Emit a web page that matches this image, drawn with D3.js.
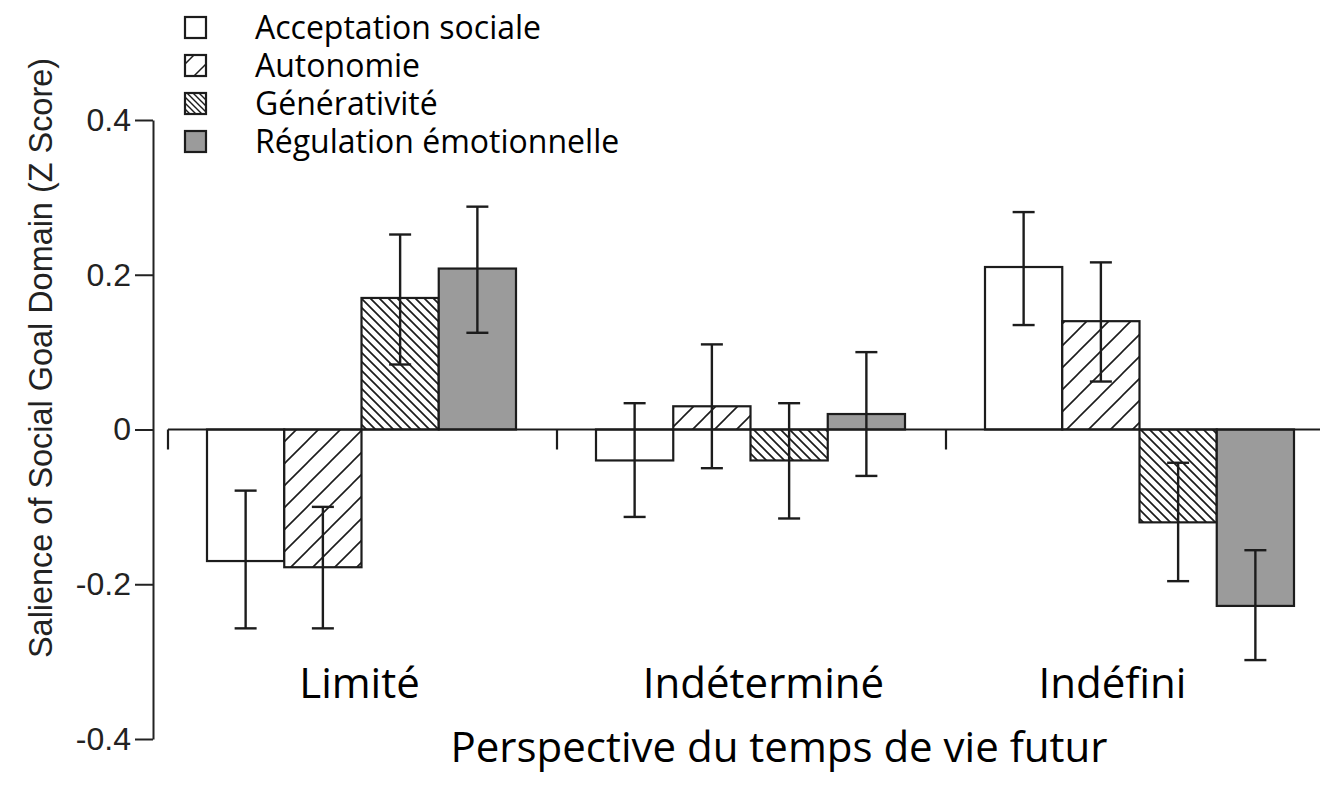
<!DOCTYPE html>
<html>
<head>
<meta charset="utf-8">
<script src="https://cdn.jsdelivr.net/npm/d3@7"></script>
<style>
  body { margin: 0; background: #fff; }
  svg { display: block; }
  .axisY text { font-family: "Liberation Sans", Arial, sans-serif; font-size: 32px; fill: #222; }
  .axisY path, .axisY line { stroke: #222; stroke-width: 2; }
</style>
</head>
<body>
<div id="chart"></div>
<script>
// categories and series
const categories = ["Limité", "Indéterminé", "Indéfini"];
const seriesNames = ["Acceptation sociale", "Autonomie", "Générativité", "Régulation émotionnelle"];

// bar means, one value per category
const acceptation = [-0.17, -0.04, 0.21];
const autonomie = [-0.178, 0.03, 0.14];
const generativite = [0.17, -0.04, -0.12];
const regulation = [0.208, 0.02, -0.228];

// error bar ends [low, high]
const acceptationErr = [[-0.257, -0.079], [-0.113, 0.034], [0.135, 0.281]];
const autonomieErr = [[-0.257, -0.1], [-0.05, 0.11], [0.062, 0.216]];
const generativiteErr = [[0.084, 0.252], [-0.115, 0.034], [-0.196, -0.043]];
const regulationErr = [[0.125, 0.288], [-0.06, 0.1], [-0.298, -0.156]];

const yTicks = [-0.4, -0.2, 0, 0.2, 0.4];
const yTickLabels = ["-0.4", "-0.2", "0", "0.2", "0.4"];
const yTitle = "Salience of Social Goal Domain (Z Score)";
const xTitle = "Perspective du temps de vie futur";

const width = 1320, height = 791;
const ink = "#1c1c1c";

const svg = d3.select("#chart").append("svg")
  .attr("width", width)
  .attr("height", height);

// HATCH PATTERNS
const defs = svg.append("defs");
function hatch(id, size, dir, sw, x0, y0) {
  const p = defs.append("pattern")
    .attr("id", id)
    .attr("patternUnits", "userSpaceOnUse")
    .attr("x", x0 || 0)
    .attr("y", y0 || 0)
    .attr("width", size)
    .attr("height", size);
  p.append("rect").attr("width", size).attr("height", size).attr("fill", "#fff");
  const s = size;
  const d = dir === "up"
    ? `M${-s},${s} L${s},${-s} M0,${2 * s} L${2 * s},0 M${-s},${2 * s} L${2 * s},${-s}`
    : `M${-s},0 L${s},${2 * s} M0,${-s} L${2 * s},${s} M${-s},${-s} L${2 * s},${2 * s}`;
  p.append("path").attr("d", d).attr("stroke", ink).attr("stroke-width", sw).attr("fill", "none");
}
hatch("hatchUp", 22, "up", 1.6);
hatch("hatchDown", 9, "down", 1.7);

const fills = ["#fff", "url(#hatchUp)", "url(#hatchDown)", "#9b9b9b"];

// SCALES
const y = d3.scaleLinear().domain([-0.4, 0.4]).range([739, 120]);
const x0 = d3.scaleBand().domain(categories).range([168, 1335]);
const x1 = d3.scaleBand().domain(seriesNames).range([39, 348]);

const means = [acceptation, autonomie, generativite, regulation];
const errs = [acceptationErr, autonomieErr, generativiteErr, regulationErr];

const rows = [];
categories.forEach((c, ci) => {
  seriesNames.forEach((s, si) => {
    rows.push({ cat: c, series: s, si: si, value: means[si][ci], lo: errs[si][ci][0], hi: errs[si][ci][1] });
  });
});

// Y AXIS
svg.append("g")
  .attr("class", "axisY")
  .attr("transform", "translate(153,0)")
  .call(d3.axisLeft(y)
    .tickValues(yTicks)
    .tickFormat((d, i) => yTickLabels[i])
    .tickSize(18)
    .tickSizeOuter(0)
    .tickPadding(4));

svg.append("text")
  .attr("transform", "translate(52,358) rotate(-90)")
  .attr("text-anchor", "middle")
  .attr("font-family", "Liberation Sans, Arial, sans-serif")
  .attr("font-size", 34)
  .attr("textLength", 600)
  .attr("lengthAdjust", "spacingAndGlyphs")
  .attr("fill", "#222")
  .text(yTitle);

// BARS
const bars = svg.append("g");
bars.selectAll("rect")
  .data(rows)
  .enter()
  .append("rect")
  .attr("x", d => x0(d.cat) + x1(d.series))
  .attr("y", d => y(Math.max(0, d.value)))
  .attr("width", x1.bandwidth())
  .attr("height", d => Math.abs(y(d.value) - y(0)))
  .attr("fill", d => fills[d.si])
  .attr("stroke", ink)
  .attr("stroke-width", 2.2);

// ZERO LINE + GROUP SEPARATORS
svg.append("line")
  .attr("x1", x0(categories[0]))
  .attr("x2", width)
  .attr("y1", y(0))
  .attr("y2", y(0))
  .attr("stroke", ink)
  .attr("stroke-width", 2.2);

svg.selectAll(".sep")
  .data(categories)
  .enter()
  .append("line")
  .attr("class", "sep")
  .attr("x1", d => x0(d))
  .attr("x2", d => x0(d))
  .attr("y1", y(0))
  .attr("y2", y(0) + 20)
  .attr("stroke", ink)
  .attr("stroke-width", 2.2);

// ERROR BARS
const eb = svg.append("g")
  .selectAll("g")
  .data(rows)
  .enter()
  .append("g")
  .attr("transform", d => `translate(${x0(d.cat) + x1(d.series) + x1.bandwidth() / 2},0)`)
  .attr("stroke", ink)
  .attr("stroke-width", 2.4);
eb.append("line").attr("y1", d => y(d.lo)).attr("y2", d => y(d.hi));
eb.append("line").attr("x1", -11).attr("x2", 11).attr("y1", d => y(d.lo)).attr("y2", d => y(d.lo));
eb.append("line").attr("x1", -11).attr("x2", 11).attr("y1", d => y(d.hi)).attr("y2", d => y(d.hi));

// CATEGORY LABELS
const labelShift = [-3, 12, -28];
svg.selectAll(".cat")
  .data(categories)
  .enter()
  .append("text")
  .attr("class", "cat")
  .attr("x", (d, i) => x0(d) + x0.bandwidth() / 2 + labelShift[i])
  .attr("y", 698)
  .attr("text-anchor", "middle")
  .attr("font-family", "Open Sans, sans-serif")
  .attr("font-size", 42)
  .attr("fill", "#000")
  .text(d => d);

svg.append("text")
  .attr("x", 779)
  .attr("y", 762)
  .attr("text-anchor", "middle")
  .attr("font-family", "Open Sans, sans-serif")
  .attr("font-size", 42)
  .attr("fill", "#000")
  .text(xTitle);

// LEGEND
const legendX = 185, legendY = 17, legendStep = 38, box = 21;
hatch("legendUp", box, "up", 1.5, legendX, legendY + legendStep);
hatch("legendDown", 6, "down", 1.4, legendX, legendY + 2 * legendStep);
const legendFills = ["#fff", "url(#legendUp)", "url(#legendDown)", "#9b9b9b"];

const legend = svg.append("g")
  .selectAll("g")
  .data(seriesNames)
  .enter()
  .append("g")
  .attr("transform", (d, i) => `translate(${legendX},${legendY + i * legendStep})`);

legend.append("rect")
  .attr("width", box)
  .attr("height", box)
  .attr("fill", (d, i) => legendFills[i])
  .attr("stroke", ink)
  .attr("stroke-width", 2.2);

legend.append("text")
  .attr("x", 255 - legendX)
  .attr("y", box / 2)
  .attr("dy", "0.35em")
  .attr("font-family", "Open Sans, sans-serif")
  .attr("font-size", 32)
  .attr("fill", "#000")
  .text(d => d);
</script>
</body>
</html>
